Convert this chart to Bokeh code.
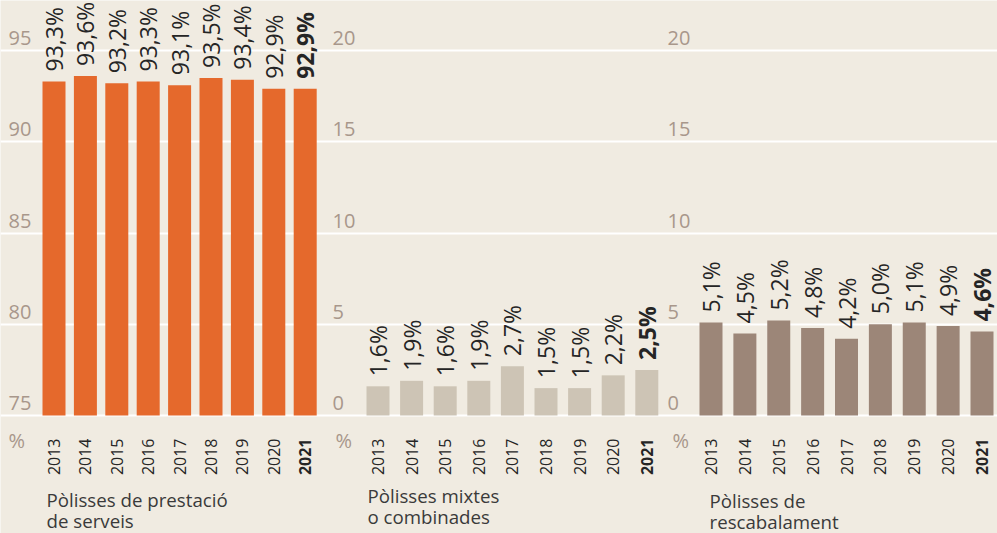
import math
from bokeh.plotting import figure
from bokeh.models import ColumnDataSource, Grid, FixedTicker, Range1d
from bokeh.core.properties import value
from bokeh.embed import file_html
from bokeh.resources import INLINE

# ---------------- data ----------------
years = ["2013", "2014", "2015", "2016", "2017", "2018", "2019", "2020", "2021"]
serveis = [93.3, 93.6, 93.2, 93.3, 93.1, 93.5, 93.4, 92.9, 92.9]
mixtes = [1.6, 1.9, 1.6, 1.9, 2.7, 1.5, 1.5, 2.2, 2.5]
rescabalament = [5.1, 4.5, 5.2, 4.8, 4.2, 5.0, 5.1, 4.9, 4.6]
ticks_serveis = [75, 80, 85, 90, 95]
ticks_altres = [0, 5, 10, 15, 20]
title_serveis = ["Pòlisses de prestació", "de serveis"]
title_mixtes = ["Pòlisses mixtes", "o combinades"]
title_rescabalament = ["Pòlisses de", "rescabalament"]
unit_label = "%"

# ---------------- style / layout ----------------
BG = "#f0ebe1"
TICK_COLOR = "#a8978b"
TEXT_COLOR = "#252525"
TITLE_COLOR = "#3a3a3a"
FONT = "Open Sans"
W, H = 997, 533
PX = 18.25        # pixels per unit
BASE_PX = 415     # y (from top) of the bottom gridline

panels = [
    dict(values=serveis, base=75, ticks=ticks_serveis, color="#e5692c", left=0,
         x0=53.5, dx=31.4, tick_x=8, pct_x=8, title=title_serveis, title_x=46, title_y=(499, 520)),
    dict(values=mixtes, base=0, ticks=ticks_altres, color="#cdc4b5", left=330,
         x0=47.5, dx=33.6, tick_x=2, pct_x=5, title=title_mixtes, title_x=37, title_y=(495, 516)),
    dict(values=rescabalament, base=0, ticks=ticks_altres, color="#9c8678", left=663,
         x0=47.5, dx=33.875, tick_x=4, pct_x=9, title=title_rescabalament, title_x=46, title_y=(500, 521)),
]


def fmt(v):
    return f"{v:.1f}".replace(".", ",") + "%"


def yr(base):
    return Range1d(base + (BASE_PX - H) / PX, base + BASE_PX / PX)


p = figure(width=W, height=H, x_range=Range1d(0, W), y_range=yr(75),
           x_axis_location=None, y_axis_location=None,
           toolbar_location=None, tools="", output_backend="svg", min_border=0)
p.background_fill_color = BG
p.border_fill_color = BG
p.outline_line_color = None
# drop default grids, keep only our horizontal gridlines
p.center = [r for r in p.center if not isinstance(r, Grid)]
p.extra_y_ranges = {"altres": yr(0)}
p.add_layout(Grid(dimension=1, ticker=FixedTicker(ticks=ticks_serveis),
                  grid_line_color="white", grid_line_width=2))

xr = {}
for k, pn in enumerate(panels):
    name = f"p{k}"
    off = pn["left"] + pn["x0"]
    xr[name] = Range1d((0 - off) / pn["dx"], (W - off) / pn["dx"])
p.extra_x_ranges = xr

n = len(years)
for k, pn in enumerate(panels):
    base, x0, dx = pn["base"], pn["x0"], pn["dx"]
    xname = f"p{k}"
    yname = "default" if base == 75 else "altres"
    kw = dict(x_range_name=xname, y_range_name=yname)

    def fx(px, x0=x0, dx=dx):
        return (px - x0) / dx

    def fy(py, base=base):
        return base + (BASE_PX - py) / PX

    idx = list(range(n))
    vals = pn["values"]
    src = ColumnDataSource(dict(x=idx, top=vals))
    p.vbar(x="x", top="top", bottom=base, width=23 / dx, source=src,
           fill_color=pn["color"], line_color=None, **kw)

    labs = [fmt(v) for v in vals]
    ly = [v + 10 / PX for v in vals]
    groups = [(slice(0, n - 1), "normal"), (slice(n - 1, n), "bold")]
    for sl, style in groups:
        s = ColumnDataSource(dict(x=idx[sl], ly=ly[sl], lab=labs[sl], year=years[sl]))
        p.text(x="x", y="ly", text="lab", source=s, angle=math.pi / 2,
               text_align="left", text_baseline="middle",
               text_font=value(FONT), text_font_size="23px",
               text_font_style=style, text_color=TEXT_COLOR, **kw)
        p.text(x="x", y=fy(438), text="year", source=s, angle=math.pi / 2,
               text_align="right", text_baseline="middle",
               text_font=value(FONT), text_font_size="16px",
               text_font_style=style, text_color=TEXT_COLOR, **kw)

    # tick labels (text centred 12.5px above each gridline)
    p.text(x=[fx(pn["tick_x"])] * len(pn["ticks"]),
           y=[t + 12.5 / PX for t in pn["ticks"]],
           text=[str(t) for t in pn["ticks"]],
           text_align="left", text_baseline="middle",
           text_font=value(FONT), text_font_size="20px", text_color=TICK_COLOR, **kw)
    p.text(x=[fx(pn["pct_x"])], y=[fy(440)], text=[unit_label],
           text_align="left", text_baseline="middle",
           text_font=value(FONT), text_font_size="20px", text_color=TICK_COLOR, **kw)

    # panel title
    p.text(x=[fx(pn["title_x"])] * 2, y=[fy(pn["title_y"][0]), fy(pn["title_y"][1])],
           text=pn["title"], text_align="left", text_baseline="middle",
           text_font=value(FONT), text_font_size="18.7px", text_color=TITLE_COLOR, **kw)

html = file_html(p, INLINE)
html = html.replace("<body>", f'<body style="background-color:{BG};">', 1)
open("out.html", "w").write(html)
